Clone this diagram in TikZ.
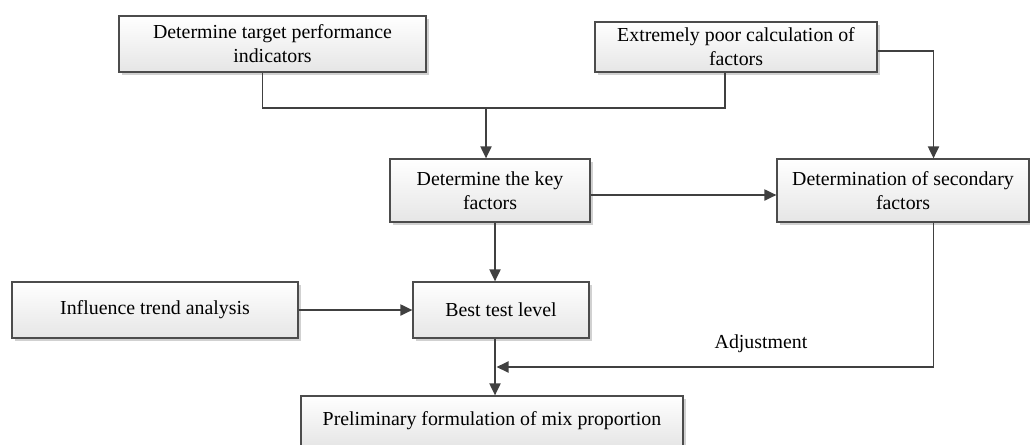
\documentclass[tikz,border=0pt]{standalone}
\usepackage{fontspec}
\setmainfont{Liberation Serif}
\usetikzlibrary{arrows.meta,shadows,calc}
\tikzset{
	caja/.style={draw=black!70, line width=0.7pt, top color=white, bottom color=black!10, align=center, inner sep=0pt,
		drop shadow={shadow xshift=0.06cm, shadow yshift=-0.06cm, fill=black!18, opacity=1},
		font=\fontsize{11.3pt}{13.6pt}\selectfont},
	flecha/.style={draw=black!75, line width=1.1pt, -{Triangle[length=0.24cm,width=0.22cm]}},
	linea/.style={draw=black!75, line width=1.1pt}
}
\begin{document}
\begin{tikzpicture}[x=0.02cm, y=-0.02cm]
	\useasboundingbox (0,0) rectangle (1030,444);
	% Boxes
		\node[caja, minimum width=6.14cm, minimum height=1.12cm] (metas) at (272.5,44) {Determine target performance\\indicators};
		\node[caja, minimum width=5.64cm, minimum height=1.0cm] (pobre) at (736,47) {Extremely poor calculation of\\factors};
		\node[caja, minimum width=4.0cm, minimum height=1.26cm] (clave) at (490,190.5) {Determine the key\\factors};
		\node[caja, minimum width=5.04cm, minimum height=1.26cm] (secund) at (903,190.5) {Determination of secondary\\factors};
		\node[caja, minimum width=3.52cm, minimum height=1.12cm] (nivel) at (501,310) {Best test level};
		\node[caja, minimum width=5.72cm, minimum height=1.12cm] (tendencia) at (155,310) {Influence trend analysis};
		\node[caja, minimum width=7.64cm, minimum height=1.0cm] (mezcla) at (492,421) {Preliminary formulation of mix proportion};
	% Joining line
		\coordinate (union) at (486,108);
		\draw[linea] ($(metas.south)+(-10,0)$) |- (union);
		\draw[linea] ($(pobre.south)+(-11,0)$) |- (union);
		\draw[flecha] (union) -- (clave.north -| union);
	% Arrows
		\draw[flecha] ($(pobre.east)+(0,4)$) -| ($(secund.north)+(30.5,0)$);
		\draw[flecha] ($(clave.east)+(0,4.5)$) -- ($(secund.west)+(0,4.5)$);
		\coordinate (eje) at (495,367);
		\draw[flecha] (clave.south -| eje) -- (nivel.north -| eje);
		\draw[flecha] (tendencia.east) -- (nivel.west);
		\draw[flecha] (nivel.south -| eje) -- (mezcla.north -| eje);
		\draw[flecha] ($(secund.south)+(30.5,0)$) |- ($(eje)+(1.5,0)$);
	% Label
		\node[font=\fontsize{11.3pt}{13.6pt}\selectfont] (ajuste) at (761,344) {Adjustment};
\end{tikzpicture}
\end{document}
